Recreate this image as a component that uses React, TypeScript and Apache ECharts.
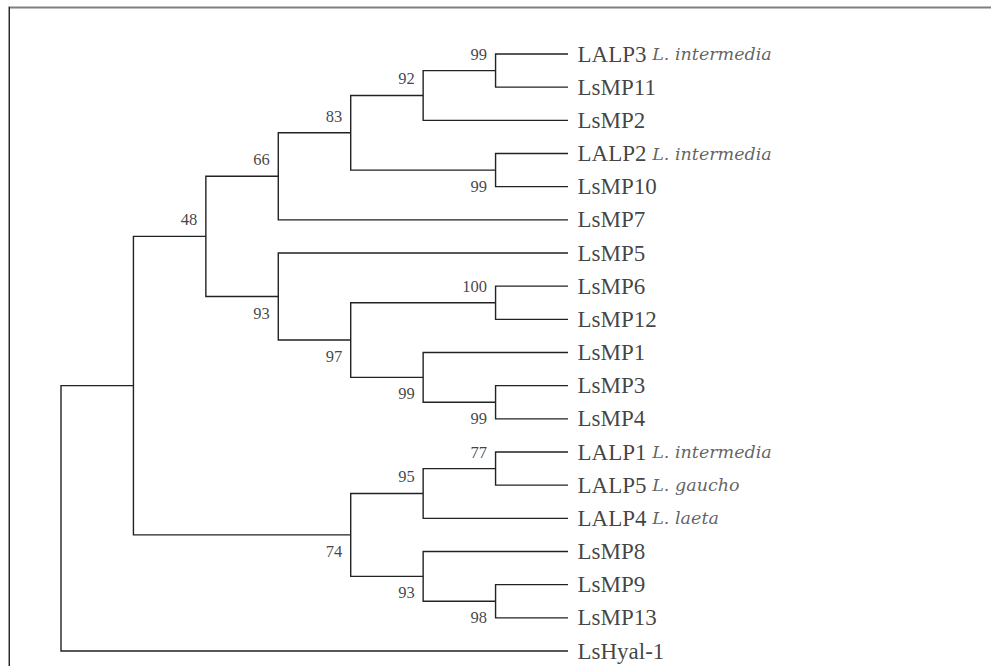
import React, { useEffect, useRef } from "react";
import * as echarts from "echarts";

// Leaves in the order they appear, top to bottom
const leafNames = [
  "LALP3", "LsMP11", "LsMP2", "LALP2", "LsMP10", "LsMP7", "LsMP5", "LsMP6", "LsMP12",
  "LsMP1", "LsMP3", "LsMP4", "LALP1", "LALP5", "LALP4", "LsMP8", "LsMP9", "LsMP13", "LsHyal-1",
];
const leafSpecies = [
  "L. intermedia", "", "", "L. intermedia", "", "", "", "", "",
  "", "", "", "L. intermedia", "L. gaucho", "L. laeta", "", "", "", "",
];
// Topology with bootstrap values (leaf numbers index leafNames)
const treeNewick =
  "(((((((0,1)99,2)92,(3,4)99)83,5)66,(6,((7,8)100,(9,(10,11)99)99)97)93)48,(((12,13)77,14)95,(15,(16,17)98)93)74),18)";

type TNode = { leaf?: number; children: TNode[]; support?: number; h: number; y: number; upper?: boolean };

function parseNewick(s: string): TNode {
  let i = 0;
  const readNum = () => {
    let t = "";
    while (i < s.length && /[0-9.]/.test(s[i])) t += s[i++];
    return t === "" ? undefined : Number(t);
  };
  const node = (): TNode => {
    if (s[i] === "(") {
      i++;
      const children: TNode[] = [];
      for (;;) {
        children.push(node());
        if (s[i] === ",") { i++; continue; }
        break;
      }
      i++; // ')'
      const support = readNum();
      return { children, support, h: 0, y: 0 };
    }
    const leaf = readNum() as number;
    return { leaf, children: [], h: 0, y: leaf };
  };
  return node();
}

function layout(n: TNode) {
  if (n.children.length === 0) { n.h = 0; n.y = n.leaf as number; return; }
  n.children.forEach(layout);
  n.h = 1 + Math.max(...n.children.map((c) => c.h));
  n.y = (n.children[0].y + n.children[n.children.length - 1].y) / 2;
  n.children.forEach((c, k) => (c.upper = k === 0));
}

export default function App() {
  const ref = useRef<HTMLDivElement>(null);
  useEffect(() => {
    if (!ref.current) return;
    const chart = echarts.init(ref.current, undefined, { renderer: "svg" });
    const root = parseNewick(treeNewick);
    layout(root);
    const internal: TNode[] = [];
    const walk = (n: TNode) => {
      if (n.children.length) { internal.push(n); n.children.forEach(walk); }
    };
    walk(root);
    const maxH = root.h;

    const bracketData = internal.map((n) => {
      const a = n.children[0];
      const b = n.children[n.children.length - 1];
      return [n.h, a.h, a.y, b.h, b.y];
    });
    const supportData = internal
      .filter((n) => n.support !== undefined)
      .map((n) => ({ value: [n.h, n.y], support: n.support, upper: n.upper }));

    const lineColor = "#222222";

    chart.setOption({
      animation: false,
      backgroundColor: "#ffffff",
      grid: { left: 61, right: 991 - 568, top: 54, bottom: 666 - 651, containLabel: false },
      xAxis: { type: "value", min: 0, max: maxH, inverse: true, show: false },
      yAxis: { type: "value", min: 0, max: leafNames.length - 1, inverse: true, show: false },
      graphic: [
        { type: "line", shape: { x1: 8, y1: 7.5, x2: 991, y2: 7.5 }, style: { stroke: "#7f7f7f", lineWidth: 2 }, silent: true },
        { type: "line", shape: { x1: 8.5, y1: 7, x2: 8.5, y2: 666 }, style: { stroke: "#9a9a9a", lineWidth: 1 }, silent: true },
        { type: "line", shape: { x1: 9.5, y1: 7, x2: 9.5, y2: 666 }, style: { stroke: "#2a2a2a", lineWidth: 1 }, silent: true },
      ],
      series: [
        {
          type: "custom",
          silent: true,
          data: bracketData,
          encode: { x: [0, 1, 3], y: [2, 4] },
          renderItem: (_p: any, api: any) => {
            const hn = api.value(0);
            const p1 = api.coord([api.value(1), api.value(2)]);
            const p2 = api.coord([hn, api.value(2)]);
            const p3 = api.coord([hn, api.value(4)]);
            const p4 = api.coord([api.value(3), api.value(4)]);
            return {
              type: "polyline",
              shape: { points: [p1, p2, p3, p4] },
              style: { stroke: lineColor, lineWidth: 1.4, fill: "none", lineJoin: "miter" },
            };
          },
        },
        {
          type: "scatter",
          silent: true,
          symbolSize: 1,
          itemStyle: { color: "transparent" },
          data: leafNames.map((_, i) => [0, i]),
          label: {
            show: true,
            position: "right",
            distance: 9,
            fontFamily: "Liberation Serif",
            fontSize: 23,
            color: "#111111",
            formatter: (p: any) => {
              const i = p.dataIndex;
              return leafSpecies[i] ? `{n|${leafNames[i]}} {s|${leafSpecies[i]}}` : `{n|${leafNames[i]}}`;
            },
            rich: {
              n: { fontFamily: "Liberation Serif", fontSize: 23, color: "#111111" },
              s: { fontFamily: "DejaVu Serif", fontStyle: "italic", fontSize: 17.5, color: "#3a3a3a" },
            },
          },
        },
        {
          type: "scatter",
          silent: true,
          symbolSize: 1,
          itemStyle: { color: "transparent" },
          data: supportData,
          label: {
            show: true,
            position: "left",
            distance: 8,
            fontFamily: "Liberation Serif",
            fontSize: 16.5,
            color: "#111111",
            formatter: (p: any) => String(p.data.support),
          },
          labelLayout: (p: any) => {
            const d = supportData[p.dataIndex];
            return { dy: d.upper ? -16.5 : 16.5 };
          },
        },
      ],
    });
    return () => chart.dispose();
  }, []);
  return (
    <div
      ref={ref}
      style={{ position: "fixed", left: 0, top: 0, width: 991, height: 666, background: "#fff" }}
    />
  );
}
